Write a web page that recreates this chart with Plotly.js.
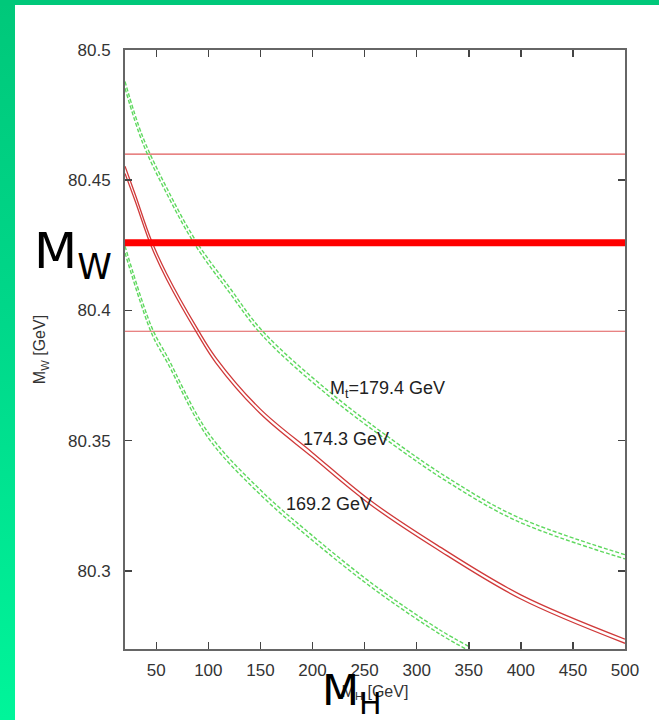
<!DOCTYPE html>
<html>
<head>
<meta charset="utf-8">
<script src="https://cdn.plot.ly/plotly-3.0.1.min.js"></script>
<style>
  html, body { margin: 0; padding: 0; background: #ffffff; width: 659px; height: 720px; overflow: hidden; }
  #leftband { position: absolute; left: 0; top: 0; width: 15px; height: 720px;
              background: linear-gradient(to bottom, #00c87a 0%, #00d88a 45%, #00f59a 100%); }
  #topband { position: absolute; left: 0; top: 0; width: 659px; height: 5px; background: #00c87a; }
  #chart { position: absolute; left: 0; top: 0; width: 659px; height: 720px; }
</style>
</head>
<body>
<div id="leftband"></div>
<div id="topband"></div>
<div id="chart"></div>
<script>
// ---- data ----
const xRange = [20, 500];
const yRange = [80.27, 80.5];
const xTickVals = [50, 100, 150, 200, 250, 300, 350, 400, 450, 500];
const xTickText = ["50", "100", "150", "200", "250", "300", "350", "400", "450", "500"];
const yTickVals = [80.3, 80.35, 80.4, 80.45, 80.5];
const yTickText = ["80.3", "80.35", "80.4", "80.45", "80.5"];

// measured M_W: central value and band edges
const mwCentral = 80.426;
const mwBandHigh = 80.460;
const mwBandLow = 80.392;

// Mt = 174.3 GeV (red double line)
const redX  = [20, 30, 45, 60, 89.5, 107, 150, 200, 255, 320, 400, 500];
const redHi = [80.4554, 80.4443, 80.4272, 80.4141, 80.3930, 80.3820, 80.3621, 80.3454, 80.3272, 80.3098, 80.2908, 80.2738];
const redLo = [80.4526, 80.4417, 80.4248, 80.4119, 80.3910, 80.3800, 80.3603, 80.3436, 80.3256, 80.3082, 80.2892, 80.2722];

// Mt = 179.4 GeV (upper green dashed double line)
const gUpX  = [20, 37, 60, 87.6, 120, 152, 214, 277, 330, 396, 500];
const gUpHi = [80.4879, 80.4667, 80.4471, 80.4270, 80.4090, 80.3921, 80.3695, 80.3502, 80.3357, 80.3208, 80.3062];
const gUpLo = [80.4853, 80.4643, 80.4449, 80.4250, 80.4070, 80.3903, 80.3677, 80.3486, 80.3341, 80.3192, 80.3046];

// Mt = 169.2 GeV (lower green dashed double line)
const gDnX  = [20, 46, 60.5, 100, 149.6, 197.6, 260, 322, 350];
const gDnHi = [80.4247, 80.3932, 80.3823, 80.3530, 80.3312, 80.3143, 80.2943, 80.2774, 80.2710];
const gDnLo = [80.4221, 80.3908, 80.3801, 80.3510, 80.3294, 80.3125, 80.2927, 80.2758, 80.2694];

// curve labels
const labelText = ["M<sub>t</sub>=179.4 GeV", "174.3 GeV", "169.2 GeV"];
const labelX = [272, 232, 216];
const labelY = [80.3697, 80.3506, 80.3257];

// ---- traces ----
const thinRed = { color: '#e05a5a', width: 1.2 };
const curveRed = { color: '#d03a3a', width: 1.3, shape: 'spline', smoothing: 1.0 };
const curveGreen = { color: '#5fd85f', width: 1.4, dash: '4px,2px', shape: 'spline', smoothing: 1.0 };

function line(x, y, style) {
  return { type: 'scatter', mode: 'lines', x: x, y: y, line: style, hoverinfo: 'skip', showlegend: false };
}

const traces = [
  line(xRange, [mwBandHigh, mwBandHigh], thinRed),
  line(xRange, [mwBandLow, mwBandLow], thinRed),
  line(gUpX, gUpHi, curveGreen),
  line(gUpX, gUpLo, curveGreen),
  line(gDnX, gDnHi, curveGreen),
  line(gDnX, gDnLo, curveGreen),
  line(redX, redHi, curveRed),
  line(redX, redLo, curveRed),
  line(xRange, [mwCentral, mwCentral], { color: '#ff0000', width: 7 })
];

const annotations = labelText.map((t, i) => ({
  x: labelX[i], y: labelY[i], xref: 'x', yref: 'y', text: t, showarrow: false,
  font: { family: 'Liberation Sans, Arial, sans-serif', size: 18, color: '#222' }
}));

annotations.push({
  x: 73, y: 255, xref: 'paper', yref: 'paper', text: 'M<sub>W</sub>', showarrow: false,
  font: { family: 'DejaVu Sans, sans-serif', size: 50, color: '#000' }
});
annotations.push({
  x: 352, y: 693, xref: 'paper', yref: 'paper', text: 'M<sub>H</sub>', showarrow: false,
  font: { family: 'DejaVu Sans, sans-serif', size: 43, color: '#000' }
});

// convert pixel positions of the big hand labels into paper coords
const W = 659, H = 720, mL = 125, mR = 34, mT = 50, mB = 71;
const pw = W - mL - mR, ph = H - mT - mB;
annotations.slice(-2).forEach(a => {
  const px = a.x, py = a.y;
  a.x = (px - mL) / pw;
  a.y = 1 - (py - mT) / ph;
  a.xanchor = 'center'; a.yanchor = 'middle';
});

const axisCommon = {
  showline: true, linecolor: '#666', linewidth: 2, mirror: 'ticks',
  ticks: 'inside', ticklen: 7, tickwidth: 1.5, tickcolor: '#444',
  showgrid: false, zeroline: false, fixedrange: true,
  tickfont: { family: 'Liberation Sans, Arial, sans-serif', size: 17, color: '#333' }
};

const layout = {
  width: W, height: H,
  margin: { l: mL, r: mR, t: mT, b: mB },
  paper_bgcolor: 'rgba(0,0,0,0)',
  plot_bgcolor: '#ffffff',
  showlegend: false,
  xaxis: Object.assign({}, axisCommon, {
    range: xRange, tickmode: 'array', tickvals: xTickVals, ticktext: xTickText,
    ticklabelstandoff: 5,
    title: { text: 'M<sub>H</sub> [GeV]', standoff: 6,
             font: { family: 'Liberation Sans, Arial, sans-serif', size: 16, color: '#333' } }
  }),
  yaxis: Object.assign({}, axisCommon, {
    range: yRange, tickmode: 'array', tickvals: yTickVals, ticktext: yTickText,
    ticklabelstandoff: 9,
    title: { text: 'M<sub>W</sub> [GeV]', standoff: 18,
             font: { family: 'Liberation Sans, Arial, sans-serif', size: 16, color: '#333' } }
  }),
  annotations: annotations
};

Plotly.newPlot('chart', traces, layout, { displayModeBar: false, staticPlot: true });
</script>
</body>
</html>
